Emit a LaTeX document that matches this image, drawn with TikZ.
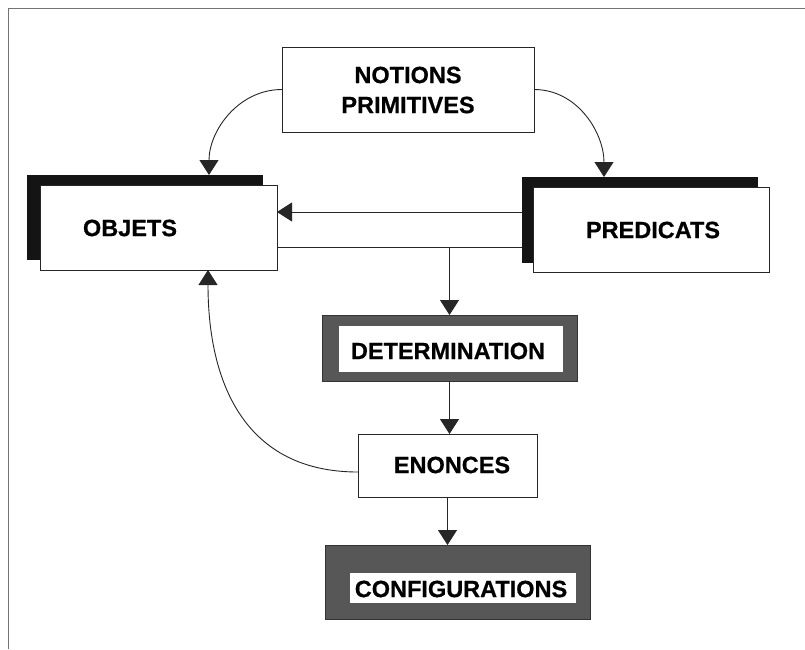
\documentclass[tikz,border=0pt]{standalone}
\usepackage{fontspec}
\setmainfont{Liberation Sans}[BoldFeatures={FakeBold=0.6}]
\usetikzlibrary{arrows.meta,calc}
\begin{document}
\begin{tikzpicture}[x=1pt,y=-1pt,
  box/.style={draw=black!85, line width=1pt, fill=white, inner sep=0pt, outer sep=0pt},
  shadowbox/.style={fill=black!92, draw=none, inner sep=0pt, outer sep=0pt},
  darkbox/.style={fill=black!66, draw=black!80, line width=1pt, inner sep=0pt, outer sep=0pt},
  innerbox/.style={fill=white, draw=none, inner sep=0pt, outer sep=0pt},
  lbl/.style={font=\fontsize{23.5}{30}\selectfont\bfseries, text=black, inner sep=0pt, align=center},
  arr/.style={-{Triangle[width=19pt,length=15pt]}, line width=0.9pt, draw=black!85},
  conn/.style={line width=0.9pt, draw=black!85}]
\useasboundingbox (0,0) rectangle (805,649);
\fill[white] (0,0) rectangle (805,649);
% frame
\draw[black!55, line width=1pt] (805,8) -- (8,8) -- (8,649);

% NOTIONS PRIMITIVES
\node[box, minimum width=252pt, minimum height=85pt] (notions) at (408,89.5) {};
\node[lbl] (notionsT) at (408,90) {NOTIONS\\PRIMITIVES};

% OBJETS
\node[shadowbox, minimum width=236pt, minimum height=85pt] (objS) at (145,217.5) {};
\node[box, minimum width=237pt, minimum height=85pt] (objets) at (158.5,227.5) {};
\node[lbl] (objetsT) at (130,228) {OBJETS};

% PREDICATS
\node[shadowbox, minimum width=236pt, minimum height=86pt] (predS) at (640,220) {};
\node[box, minimum width=236pt, minimum height=85pt] (pred) at (651,229.5) {};
\node[lbl] (predT) at (653,230) {PREDICATS};

% DETERMINATION
\node[darkbox, minimum width=255pt, minimum height=66pt] (det) at (449.5,348) {};
\node[innerbox, minimum width=224pt, minimum height=46pt] (detI) at (451,349) {};
\node[lbl] (detT) at (448,351) {DETERMINATION};

% ENONCES
\node[box, minimum width=179pt, minimum height=63pt] (enon) at (447.5,465.5) {};
\node[lbl] (enonT) at (452,465) {ENONCES};

% CONFIGURATIONS
\node[darkbox, minimum width=265pt, minimum height=74pt] (conf) at (457.5,582) {};
\node[innerbox, minimum width=226pt, minimum height=30pt] (confI) at (462.5,588) {};
\node[lbl] (confT) at (461,589) {CONFIGURATIONS};

% connectors
\draw[arr] (notions.west) to[out=180,in=90] ([xshift=64pt]objS.north);
\draw[arr] (notions.east) to[out=0,in=90] ([xshift=-36pt]predS.north);

\coordinate (ua) at ([yshift=15.5pt]objets.east);
\coordinate (lb) at ([yshift=-19.5pt]objets.east);
\draw[arr] (predS.west |- ua) -- (ua);
\draw[conn] (lb) -- (predS.west |- lb);
\draw[arr] (det.north |- lb) -- (det.north);
\draw[arr] (det.south) -- (det.south |- enon.north);
\draw[arr] (enon.south) -- (enon.south |- conf.north);
\draw[arr] ([yshift=-6.5pt]enon.west) to[out=180,in=-90,looseness=1.15] ([xshift=49.5pt]objets.south);
\end{tikzpicture}
\end{document}
